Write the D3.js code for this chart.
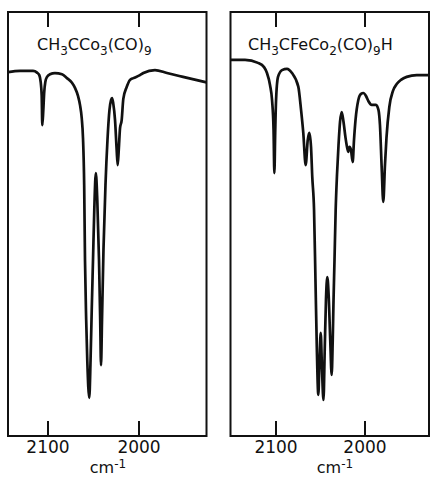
<!DOCTYPE html>
<html>
<head>
<meta charset="utf-8">
<script src="https://cdn.jsdelivr.net/npm/d3@7"></script>
<style>
  body { margin: 0; background: #fff; }
  svg { display: block; }
</style>
</head>
<body>
<svg id="chart" width="430" height="477"></svg>
<script>
// values (wavenumber in cm-1, % transmittance)
var tickValues = [2100, 2000];

var leftWavenumber = [2143.4, 2130.2, 2115.9, 2111.5, 2109.0, 2107.5, 2106.4, 2105.7, 2104.6, 2103.6,
  2102.4, 2100.5, 2097.3, 2091.8, 2084.1, 2078.6, 2073.1, 2069.8, 2066.5, 2064.3,
  2062.4, 2061.0, 2059.7, 2058.8, 2057.5, 2056.3, 2054.1, 2052.7, 2051.4, 2050.0,
  2048.6, 2046.9, 2045.3, 2043.4, 2042.1, 2041.2, 2040.1, 2038.5, 2036.3, 2034.1,
  2031.9, 2030.2, 2029.1, 2027.8, 2025.8, 2024.0, 2022.9, 2021.7, 2020.3, 2018.5,
  2016.7, 2013.0, 2009.3, 2005.7, 1998.4, 1994.7, 1981.9, 1968.7, 1951.1, 1925.3];
var leftTransmittance = [85.8, 86.1, 86.1, 85.7, 85.1, 83.5, 80.4, 73.3, 76.9, 81.1,
  83.5, 84.7, 85.3, 85.6, 85.3, 84.4, 83.3, 82.1, 80.2, 78.1,
  75.0, 70.3, 59.2, 41.5, 27.4, 17.9, 9.0, 17.9, 29.7, 41.5,
  53.3, 62.0, 55.7, 41.5, 27.4, 16.7, 27.4, 43.9, 59.2, 69.8,
  76.9, 79.2, 79.7, 78.5, 74.5, 67.5, 63.9, 67.5, 72.6, 74.5,
  79.5, 82.3, 84.0, 84.4, 85.1, 85.6, 86.3, 85.6, 84.7, 83.4];

var rightWavenumber = [2150.6, 2134.3, 2119.7, 2112.9, 2109.6, 2106.2, 2103.9, 2102.2, 2101.3, 2100.3,
  2099.4, 2097.2, 2092.7, 2087.1, 2081.5, 2074.4, 2071.3, 2068.8, 2066.1, 2063.8,
  2062.0, 2060.1, 2058.7, 2056.7, 2055.1, 2053.6, 2051.9, 2050.6, 2049.2, 2047.8,
  2046.1, 2044.7, 2043.3, 2041.8, 2040.3, 2038.5, 2036.9, 2035.7, 2034.8, 2033.7,
  2032.4, 2030.9, 2029.2, 2027.5, 2025.6, 2023.6, 2021.3, 2019.7, 2018.2, 2016.9,
  2015.2, 2013.3, 2011.8, 2010.1, 2007.0, 2003.9, 2001.3, 1998.3, 1995.7, 1991.9,
  1987.1, 1984.3, 1982.6, 1980.7, 1978.9, 1977.0, 1975.3, 1972.1, 1968.0, 1963.8,
  1959.0, 1952.6, 1941.3, 1926.4];
var rightTransmittance = [88.7, 88.7, 88.0, 87.0, 85.6, 82.8, 79.2, 72.2, 62.0, 72.2,
  79.2, 84.7, 86.3, 86.6, 85.6, 82.4, 76.9, 71.5, 63.9, 69.8,
  71.5, 68.2, 61.1, 53.3, 36.8, 21.0, 9.7, 17.5, 24.3, 16.0,
  8.5, 20.3, 32.1, 37.5, 33.3, 22.6, 14.4, 22.6, 32.1, 41.5,
  53.3, 61.6, 68.6, 74.1, 76.4, 74.1, 70.3, 68.2, 67.0, 68.2,
  67.5, 64.6, 69.8, 74.5, 79.2, 80.7, 80.9, 80.2, 79.0, 78.1,
  78.1, 76.9, 73.3, 63.4, 55.2, 63.9, 70.3, 77.6, 81.4, 83.0,
  84.0, 84.7, 85.1, 85.1];

// formula pieces: even index = normal, odd index = subscript
var leftTitle = ["CH", "3", "CCo", "3", "(CO)", "9"];
var rightTitle = ["CH", "3", "CFeCo", "2", "(CO)", "9", "H"];

var plotTop = 12, plotBottom = 436;
var ink = "#111";
var svg = d3.select("#chart");

var panels = [
  { wn: leftWavenumber, tr: leftTransmittance, title: leftTitle,
    left: 8, right: 206.5, domain: [2143.4, 1925.3], titleX: 37, unitX: 108 },
  { wn: rightWavenumber, tr: rightTransmittance, title: rightTitle,
    left: 230.5, right: 429, domain: [2150.6, 1927.5], titleX: 248, unitX: 335 }
];

panels.forEach(function (p) {
  var x = d3.scaleLinear().domain(p.domain).range([p.left, p.right]);
  var y = d3.scaleLinear().domain([0, 100]).range([plotBottom, plotTop]);
  var g = svg.append("g");

  g.append("rect")
    .attr("x", p.left).attr("y", plotTop)
    .attr("width", p.right - p.left).attr("height", plotBottom - plotTop)
    .attr("fill", "none").attr("stroke", ink).attr("stroke-width", 2);

  var axB = g.append("g")
    .attr("transform", "translate(0," + plotBottom + ")")
    .call(d3.axisBottom(x).tickValues(tickValues).tickSizeInner(-15)
      .tickSizeOuter(0).tickPadding(5).tickFormat(d3.format("d")));
  var axT = g.append("g")
    .attr("transform", "translate(0," + plotTop + ")")
    .call(d3.axisTop(x).tickValues(tickValues).tickSizeInner(-15)
      .tickSizeOuter(0).tickFormat(""));
  [axB, axT].forEach(function (a) {
    a.select(".domain").remove();
    a.selectAll("line").attr("stroke", ink).attr("stroke-width", 2);
  });
  axB.selectAll("text")
    .attr("font-family", "DejaVu Sans").attr("font-size", 17).attr("fill", ink);

  var pts = p.wn.map(function (w, i) { return [w, p.tr[i]]; });
  var line = d3.line()
    .x(function (d) { return x(d[0]); })
    .y(function (d) { return y(d[1]); })
    .curve(d3.curveMonotoneX);
  g.append("path")
    .datum(pts)
    .attr("d", line)
    .attr("fill", "none").attr("stroke", ink)
    .attr("stroke-width", 2.7).attr("stroke-linejoin", "round");

  var t = g.append("text")
    .attr("x", p.titleX).attr("y", 49.5)
    .attr("font-family", "DejaVu Sans").attr("font-size", 16).attr("fill", ink);
  p.title.forEach(function (s, i) {
    var span = t.append("tspan").text(s);
    if (i % 2 === 1) span.attr("font-size", 12).attr("dy", 5);
    else if (i > 0) span.attr("dy", -5);
  });

  var u = g.append("text")
    .attr("x", p.unitX).attr("y", 472.5)
    .attr("text-anchor", "middle")
    .attr("font-family", "DejaVu Sans").attr("font-size", 16).attr("fill", ink)
    .text("cm");
  u.append("tspan").attr("font-size", 12).attr("dy", -5).text("-1");
});
</script>
</body>
</html>
